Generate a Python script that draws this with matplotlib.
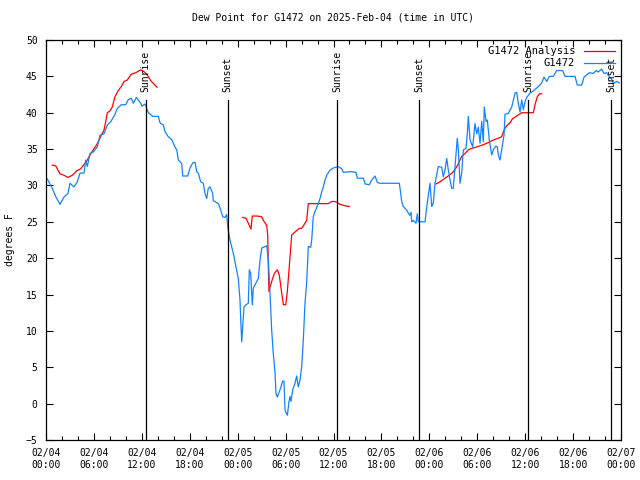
import numpy as np
import pandas as pd
import matplotlib
matplotlib.use("Agg")
import matplotlib.pyplot as plt
import matplotlib.dates as mdates

start = pd.Timestamp("2025-02-04 00:00")

# Observed dew point (hours since start, degrees F)
obs_h = [0.16, 0.79, 1.21, 1.75, 2.25, 2.75, 3.0, 3.5, 3.92, 4.26, 4.76, 4.97, 5.17, 5.51, 5.92,
         6.42, 6.76, 7.26, 7.68, 8.1, 8.6, 8.93, 9.43, 9.98, 10.27, 10.68, 10.93, 11.31, 11.86, 12.0,
         12.4, 12.81, 13.36, 14.06, 14.28, 14.69, 14.9, 15.31, 15.74, 16.15, 16.37, 16.57, 16.99, 17.12,
         17.74, 18.03, 18.37, 18.66, 18.87, 19.07, 19.37, 19.7, 19.91, 20.12, 20.32, 20.54, 20.87, 20.95,
         21.58, 21.79, 22.13, 22.41, 22.63, 22.75, 23.04, 23.45, 23.79, 24.08, 24.29, 24.42, 24.51, 24.58,
         24.79, 25.04, 25.33, 25.46, 25.63, 25.83, 25.96, 26.3, 26.58, 26.8, 27.01, 27.64, 27.84, 28.05,
         28.26, 28.46, 28.68, 28.8, 28.96, 29.3, 29.64, 29.8, 29.93, 30.22, 30.43, 30.55, 30.68, 30.89,
         31.18, 31.39, 31.59, 31.81, 32.02, 32.22, 32.43, 32.64, 32.85, 33.15, 33.27, 33.47, 33.68, 34.1,
         34.31, 34.52, 34.72, 34.94, 35.15, 35.56, 35.98, 36.6, 37.03, 37.23, 38.15, 38.82, 38.98, 39.73,
         39.98, 40.48, 40.78, 41.2, 41.49, 41.82, 44.24, 44.42, 44.54, 44.74, 45.17, 45.37, 45.58, 45.71,
         45.79, 45.99, 46.33, 46.5, 46.62, 47.46, 47.67, 48.0, 48.08, 48.3, 48.5, 48.71, 49.12, 49.55,
         49.75, 49.96, 50.18, 50.38, 50.59, 50.8, 51.0, 51.22, 51.5, 51.63, 51.84, 52.05, 52.26, 52.59,
         52.76, 52.88, 53.1, 53.43, 53.72, 53.93, 54.13, 54.35, 54.56, 54.76, 54.88, 55.1, 55.26, 55.51,
         55.81, 56.01, 56.31, 56.51, 56.64, 56.85, 57.06, 57.35, 57.48, 57.89, 58.32, 58.73, 58.94, 59.14,
         59.36, 59.57, 59.77, 59.98, 60.19, 60.61, 61.02, 61.65, 62.07, 62.36, 62.7, 63.02, 63.52, 63.95,
         64.7, 64.99, 66.24, 66.53, 67.08, 67.37, 68.03, 68.53, 68.87, 69.16, 69.58, 69.87, 70.21, 70.54,
         70.84, 71.04, 71.47, 71.79]
obs_v = [30.9, 29.6, 28.5, 27.4, 28.4, 28.9, 30.3, 29.8, 30.5, 31.7, 31.7, 33.5, 32.6, 34.4, 34.6,
         35.3, 36.9, 37.1, 38.3, 38.75, 39.7, 40.6, 41.1, 41.1, 41.75, 42.0, 41.3, 42.1, 41.3, 40.9,
         41.2, 40.0, 39.5, 39.5, 38.6, 38.3, 37.4, 36.7, 36.3, 35.3, 34.9, 33.5, 33.0, 31.3,
         31.3, 32.4, 33.1, 33.2, 31.9, 31.7, 30.5, 30.3, 28.9, 28.2, 29.6, 29.8, 28.9, 27.9,
         27.5, 26.9, 25.7, 25.6, 26.0, 24.3, 22.5, 20.7, 18.8, 17.2, 14.25, 10.6, 8.5, 9.7,
         13.3, 13.6, 13.8, 18.4, 17.9, 13.6, 15.9, 16.6, 17.2, 19.75, 21.4, 21.7, 19.75, 15.2,
         10.1, 6.9, 4.2, 1.4, 0.9, 1.9, 3.1, 3.1, -0.9, -1.6, 0.3, 1.0, 0.3, 1.9,
         2.8, 3.8, 2.3, 3.25, 5.1, 8.75, 13.8, 16.6, 21.6, 21.5, 22.5, 25.7, 26.4, 27.5,
         28.2, 29.1, 29.8, 30.75, 31.4, 32.1, 32.4, 32.6, 32.3, 31.8, 31.9, 31.8, 31.0, 31.0,
         30.2, 30.1, 30.75, 31.3, 30.4, 30.3, 30.3, 28.9, 27.8, 27.1, 26.6, 26.2, 25.9, 26.3,
         25.0, 25.2, 24.8, 26.1, 25.0, 25.0, 27.0, 29.6, 30.3, 27.1, 27.6, 30.3, 32.6, 32.5,
         31.2, 32.1, 33.7, 32.1, 30.75, 29.6, 29.6, 32.6, 36.5, 34.9, 30.3, 31.7, 34.9, 35.1,
         37.2, 39.5, 36.25, 35.3, 38.5, 37.1, 38.0, 35.8, 38.8, 36.0, 40.8, 38.8, 39.0, 36.25,
         34.2, 34.9, 35.4, 35.3, 34.2, 33.5, 34.9, 36.9, 39.8, 39.9, 40.8, 42.7, 42.8, 41.3,
         40.1, 41.75, 40.4, 41.5, 42.1, 42.7, 43.0, 43.6, 44.1, 44.9, 44.3, 45.0, 45.0, 45.8,
         45.8, 45.0, 45.0, 43.8, 43.8, 44.9, 45.5, 45.4, 45.8, 45.6, 46.0, 45.4, 45.5, 44.9,
         44.6, 44.0, 44.3, 44.1]

# Analysis dew point (NaN separates gaps)
ana_h = [0.79, 1.21, 1.75, 2.25, 2.75, 3.29, 3.84, 4.35, 4.85, 5.17, 5.51, 5.92, 6.35, 6.64, 6.92,
         7.26, 7.48, 7.68, 8.01, 8.3, 8.64, 9.02, 9.43, 9.77, 10.18, 10.68, 11.23, 11.86, 12.27, 12.68,
         13.11, 13.52, 13.9, 19.0,
         24.63, 25.04, 25.46, 25.67, 25.83, 26.38, 27.01, 27.21, 27.64, 27.76, 27.84, 27.92, 28.26, 28.59,
         28.96, 29.21, 29.43, 29.72, 30.02, 30.22, 30.43, 30.64, 30.77, 31.18, 31.72, 32.02, 32.31, 32.64,
         32.85, 34.31, 35.35, 35.78, 36.1, 36.4, 36.82, 37.44, 37.98, 43.0,
         48.84, 49.34, 49.96, 50.5, 50.93, 51.34, 51.63, 52.05, 52.47, 52.88, 53.31, 53.93, 54.76, 55.38,
         56.01, 56.64, 57.06, 57.35, 57.68, 58.1, 58.43, 58.73, 59.14, 59.57, 60.48, 61.02, 61.23, 61.52,
         61.77, 62.07]
ana_v = [32.8, 32.7, 31.6, 31.4, 31.1, 31.4, 32.0, 32.3, 33.0, 33.5, 34.2, 34.9, 35.6, 36.25, 36.9,
         37.6, 38.8, 40.0, 40.25, 40.8, 42.2, 43.0, 43.6, 44.3, 44.5, 45.3, 45.5, 45.9, 45.65, 45.2,
         44.4, 43.95, 43.5, np.nan,
         25.6, 25.5, 24.5, 24.0, 25.8, 25.8, 25.7, 25.2, 24.5, 23.2, 18.8, 15.4, 16.8, 17.9,
         18.4, 17.7, 15.9, 13.6, 13.6, 15.4, 18.4, 21.4, 23.2, 23.6, 24.1, 24.1, 24.6, 25.2,
         27.5, 27.5, 27.5, 27.8, 27.8, 27.7, 27.4, 27.2, 27.1, np.nan,
         30.2, 30.5, 31.0, 31.4, 31.8, 32.4, 33.0, 34.0, 34.4, 34.9, 35.1, 35.3, 35.6, 35.9,
         36.25, 36.5, 36.7, 37.6, 38.2, 38.6, 39.2, 39.4, 39.7, 40.0, 40.0, 40.0, 41.1, 42.2,
         42.6, 42.6]

# Sun events (hours since start)
sun_h = [12.46, 22.73, 36.5, 46.74, 60.39, 70.8]
sun_lbl = ["Sunrise", "Sunset", "Sunrise", "Sunset", "Sunrise", "Sunset"]

title = "Dew Point for G1472 on 2025-Feb-04 (time in UTC)"
ylabel = "degrees F"

def to_t(h):
    return start + pd.to_timedelta(np.asarray(h, dtype=float), unit="h")

FONT = ["DejaVu Sans Mono"]
plt.rcParams["font.family"] = FONT
plt.rcParams["font.size"] = 7

fig = plt.figure(figsize=(6.4, 4.8), dpi=100)
ax = fig.add_axes([46/640, 1-440/480, 575/640, 400/480])

blue = "#1283ff"
red = "#ff0000"
l1, = ax.plot(to_t(ana_h), ana_v, color=red, lw=0.9, label="G1472 Analysis")
l2, = ax.plot(to_t(obs_h), obs_v, color=blue, lw=0.9, label="G1472")

st = to_t(sun_h)
for t, lb in zip(st, sun_lbl):
    ax.plot([t, t], [-5, 41.8], color="black", lw=0.9)
    ax.text(t, 42.8, lb, rotation=90, ha="center", va="bottom", fontsize=7)

ax.set_xlim(start, start + pd.Timedelta(hours=72))
ax.set_ylim(-5, 50)
ax.set_yticks(np.arange(-5, 51, 5))
ax.xaxis.set_major_locator(mdates.HourLocator(byhour=[0, 6, 12, 18]))
ax.xaxis.set_minor_locator(mdates.HourLocator(byhour=range(0, 24, 2)))
ax.xaxis.set_major_formatter(mdates.DateFormatter("%m/%d\n%H:%M"))
ax.tick_params(which="both", direction="in", top=True, right=True, labelsize=7, width=0.8)
ax.tick_params(which="major", length=5, pad=6)
ax.tick_params(which="minor", length=3)
for s in ax.spines.values():
    s.set_linewidth(0.9)

ax.set_title(title, fontsize=7, pad=14)
ax.set_ylabel(ylabel, fontsize=7, labelpad=8)

leg = ax.legend(handles=[l1, l2], loc="upper right", frameon=False, markerfirst=False,
                fontsize=7.5, handlelength=3.0, borderaxespad=0.2, labelspacing=0.2,
                handletextpad=0.8)
for t in leg.get_texts():
    t.set_ha("right")

fig.savefig("out.png", dpi=100)
